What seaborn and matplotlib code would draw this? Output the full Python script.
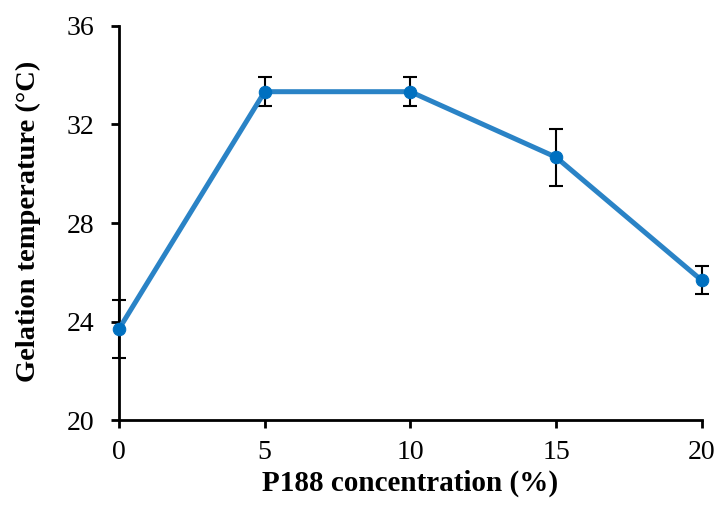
import matplotlib
matplotlib.use("Agg")
import matplotlib.pyplot as plt
import seaborn as sns
import pandas as pd

concentration = [0, 5, 10, 15, 20]
gel_temp = [23.70, 33.33, 33.33, 30.67, 25.67]
gel_err = [1.16, 0.58, 0.58, 1.15, 0.57]
x_ticks = [0, 5, 10, 15, 20]
y_ticks = [20, 24, 28, 32, 36]

df = pd.DataFrame({"conc": concentration, "temp": gel_temp, "err": gel_err})

sns.set_theme(style="ticks")
plt.rcParams["font.family"] = ["Liberation Serif", "DejaVu Serif"]
plt.rcParams["text.color"] = "black"
plt.rcParams["axes.labelcolor"] = "black"

fig = plt.figure(figsize=(7.19, 5.08), dpi=100)
ax = fig.add_axes([0.1655, 0.173, 0.8105, 0.776])

ax.errorbar(df["conc"], df["temp"], yerr=df["err"], fmt="none", ecolor="black",
            elinewidth=1.5, capsize=5, capthick=1.5, zorder=2, clip_on=False)
sns.lineplot(data=df, x="conc", y="temp", ax=ax, color="#2a83c6", linewidth=3.6,
             marker="o", markersize=9, markerfacecolor="#0070c0",
             markeredgecolor="#0070c0", zorder=3, clip_on=False)

ax.set_xlim(0, 20)
ax.set_ylim(20, 36)
ax.set_xticks(x_ticks)
ax.set_yticks(y_ticks)
ax.tick_params(axis="both", direction="out", length=6, width=2, colors="black",
               labelsize=20)
ax.tick_params(axis="y", pad=12)
ax.tick_params(axis="x", pad=8)
for s in ["top", "right"]:
    ax.spines[s].set_visible(False)
for s in ["left", "bottom"]:
    ax.spines[s].set_linewidth(2)
    ax.spines[s].set_color("black")

ax.set_xlabel("P188 concentration (%)", fontsize=21, fontweight="bold", labelpad=4)
ax.set_ylabel("Gelation temperature (°C)", fontsize=20.5, fontweight="bold")
ax.yaxis.set_label_coords(-0.134, 0.505)

fig.savefig("out.png", dpi=100)
